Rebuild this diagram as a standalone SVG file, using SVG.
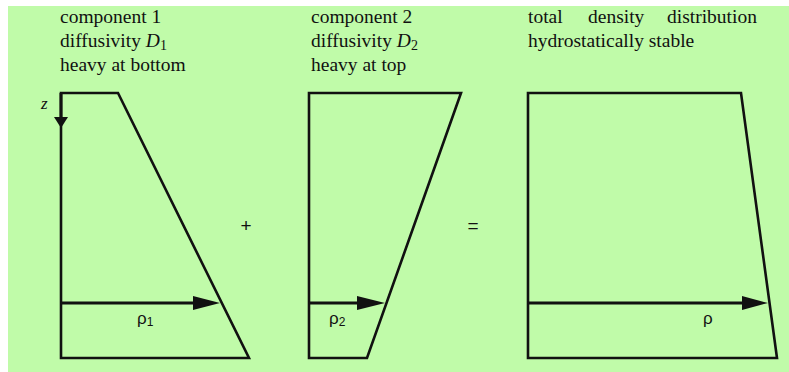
<svg xmlns="http://www.w3.org/2000/svg" width="789" height="372" viewBox="0 0 789 372">
<defs>
<style>
.bg{fill:#c0fba9}
.shape{fill:none;stroke:#111;stroke-width:2.6;stroke-linejoin:miter}
.arr{fill:none;stroke:#111;stroke-width:3}
.head{fill:#111}
.t{font-family:"Liberation Serif","Times New Roman",serif;font-size:19.5px;fill:#111}
.r{font-family:"Liberation Sans",Arial,sans-serif;font-size:17px;fill:#111}
.sub{font-size:12px}
.dsub{font-size:14px}
.op{font-family:"Liberation Sans",Arial,sans-serif;font-size:19px;fill:#111}
</style>
</defs>
<rect class="bg" x="8" y="6" width="781" height="366"/>
<g id="panel1">
<polygon class="shape" points="61,93 118,93 249,358 61,358"/>
<text class="t" x="60" y="23">component 1</text>
<text class="t" x="60" y="47">diffusivity <tspan font-style="italic">D</tspan><tspan class="dsub" dy="3">1</tspan></text>
<text class="t" x="60" y="71">heavy at bottom</text>
<text class="t" x="41" y="109" font-style="italic" style="font-size:17px">z</text>
<text class="r" x="137" y="324">ρ<tspan class="sub" dy="2">1</tspan></text>
</g>
<g id="panel2">
<polygon class="shape" points="309,93 461,93 367,358 309,358"/>
<text class="t" x="311" y="23">component 2</text>
<text class="t" x="311" y="47">diffusivity <tspan font-style="italic">D</tspan><tspan class="dsub" dy="3">2</tspan></text>
<text class="t" x="311" y="71">heavy at top</text>
<text class="r" x="329" y="324">ρ<tspan class="sub" dy="2">2</tspan></text>
</g>
<g id="panel3">
<polygon class="shape" points="528,93 741,93 777,358 528,358"/>
<text class="t" x="528" y="23">total</text>
<text class="t" x="588" y="23">density</text>
<text class="t" x="667" y="23">distribution</text>
<text class="t" x="528" y="47">hydrostatically stable</text>
<text class="r" x="703" y="324">ρ</text>
</g>
<g id="operators">
<text class="op" x="246" y="232" text-anchor="middle">+</text>
<text class="op" x="473" y="232" text-anchor="middle">=</text>
</g>
<g id="connectors">
<line class="arr" x1="61" y1="93" x2="61" y2="120"/>
<polygon class="head" points="54,117 68,117 61,128"/>
<line class="arr" x1="61" y1="303" x2="196" y2="303"/>
<polygon class="head" points="193,296 220,303 193,310"/>
<line class="arr" x1="309" y1="303" x2="360" y2="303"/>
<polygon class="head" points="357,296 385,303 357,310"/>
<line class="arr" x1="528" y1="303" x2="745" y2="303"/>
<polygon class="head" points="742,296 768,303 742,310"/>
</g>
</svg>
